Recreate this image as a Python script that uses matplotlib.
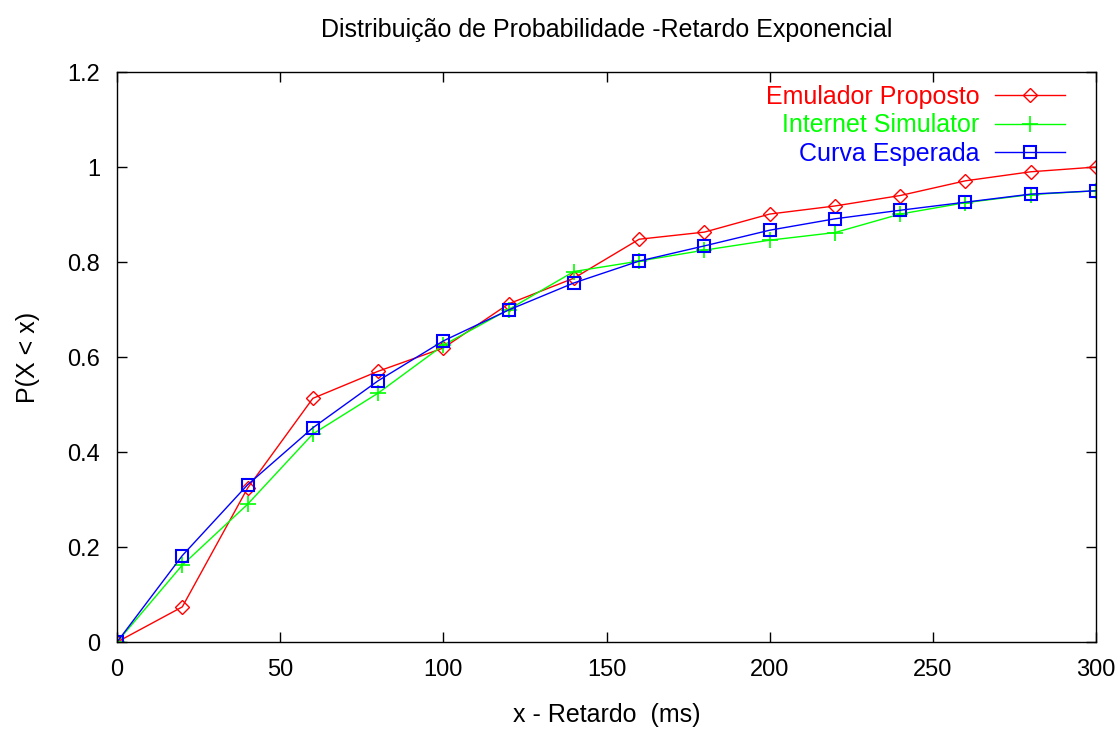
import matplotlib
matplotlib.use("Agg")
import matplotlib.pyplot as plt

# Delay values (ms) and cumulative probabilities
retardo = [0, 20, 40, 60, 80, 100, 120, 140, 160, 180, 200, 220, 240, 260, 280, 300]
emulador = [0.0, 0.074, 0.324, 0.513, 0.570, 0.619, 0.712, 0.766, 0.848, 0.863,
            0.901, 0.918, 0.940, 0.971, 0.990, 1.000]
internet = [0.0, 0.162, 0.290, 0.438, 0.524, 0.625, 0.700, 0.780, 0.802, 0.825,
            0.846, 0.862, 0.901, 0.925, 0.942, 0.950]
esperada = [0.0, 0.182, 0.331, 0.451, 0.550, 0.634, 0.699, 0.756, 0.802, 0.834,
            0.867, 0.891, 0.909, 0.926, 0.943, 0.950]

xticks = [0, 50, 100, 150, 200, 250, 300]
yticks = [0, 0.2, 0.4, 0.6, 0.8, 1.0, 1.2]
ytick_labels = ["0", "0.2", "0.4", "0.6", "0.8", "1", "1.2"]

plt.rcParams["font.family"] = ["Liberation Sans", "DejaVu Sans"]

fig = plt.figure(figsize=(11.2, 7.29), dpi=100)
ax = fig.add_axes([0.1045, 0.1193, 0.8741, 0.7819])

ax.plot(retardo, emulador, color="#ff0000", lw=1.0, marker="D", ms=7.5,
        mfc="none", mec="#ff0000", mew=1.0, label="Emulador Proposto")
ax.plot(retardo, internet, color="#00ff00", lw=1.0, marker="+", ms=12,
        mew=1.2, label="Internet Simulator")
ax.plot(retardo, esperada, color="#0000ff", lw=1.0, marker="s", ms=8.5,
        mfc="none", mec="#0000ff", mew=1.5, label="Curva Esperada")

ax.set_xlim(0, 300)
ax.set_ylim(0, 1.2)
ax.set_xticks(xticks)
ax.set_yticks(yticks)
ax.set_yticklabels(ytick_labels)
ax.tick_params(direction="in", top=True, right=True, length=7, width=1,
               labelsize=17, pad=12)
for s in ax.spines.values():
    s.set_linewidth(1.0)

fig.text(0.5415, 0.959, "Distribuição de Probabilidade -Retardo Exponencial",
         fontsize=18, ha="center", va="center")
ax.set_xlabel("x - Retardo  (ms)", fontsize=18, labelpad=16)
ax.set_ylabel("P(X < x)", fontsize=18, labelpad=20)

leg = ax.legend(loc="upper right", bbox_to_anchor=(0.968, 0.977),
                frameon=False, markerfirst=False, fontsize=18,
                labelcolor="linecolor", handlelength=2.8,
                borderaxespad=0, borderpad=0, labelspacing=0.17,
                handletextpad=0.6)
for t in leg.get_texts():
    t.set_ha("right")

fig.savefig("out.png", dpi=100)
